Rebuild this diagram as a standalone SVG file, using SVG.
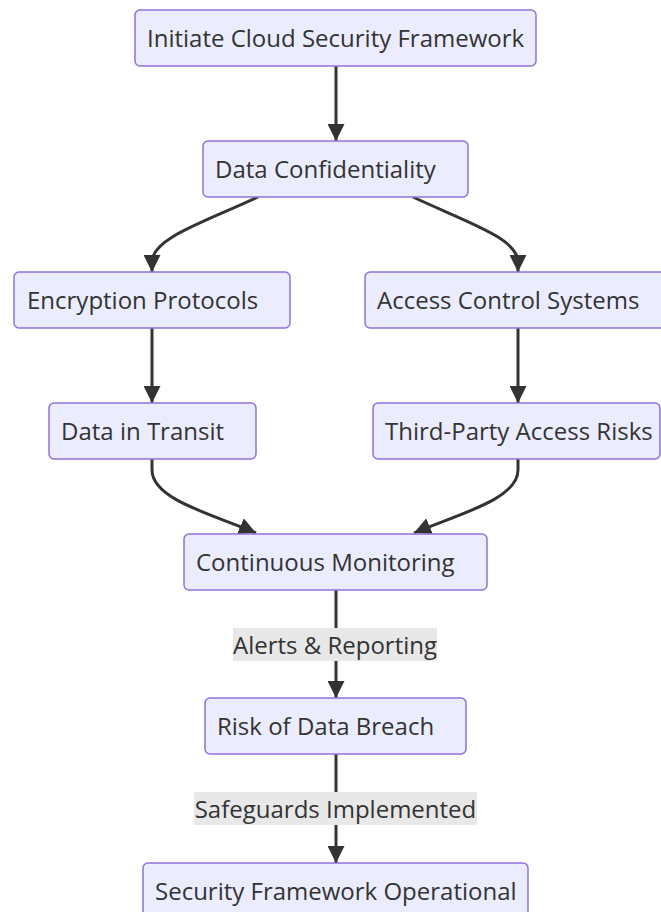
<svg xmlns="http://www.w3.org/2000/svg" width="661" height="912" viewBox="0 0 661 912">
<style>
.node rect{fill:#ECECFF;stroke:#9370DB;stroke-width:1.5}
.node text,.lbl text{font-family:"Open Sans","Noto Sans",sans-serif;font-size:24px;fill:#333}
.edge{fill:none;stroke:#333;stroke-width:3}
.lbl rect{fill:#e8e8e8}
</style>
<defs>
<marker id="ah" viewBox="0 0 10 10" refX="10" refY="5" markerUnits="userSpaceOnUse" markerWidth="17" markerHeight="17" orient="auto">
<path d="M0,0 L10,5 L0,10 z" fill="#333"/>
</marker>
</defs>
<g id="connectors">
<path class="edge" d="M336,66 L336,141" marker-end="url(#ah)"/>
<path class="edge" d="M258,197 C205,222 152,238 152,262 L152,272" marker-end="url(#ah)"/>
<path class="edge" d="M413,197 C466,222 518,238 518,262 L518,272" marker-end="url(#ah)"/>
<path class="edge" d="M152,328 L152,403" marker-end="url(#ah)"/>
<path class="edge" d="M518,328 L518,403" marker-end="url(#ah)"/>
<path class="edge" d="M152,459 L152,470 C152,500 215,515 256,533" marker-end="url(#ah)"/>
<path class="edge" d="M518,459 L518,470 C518,500 455,515 414,533" marker-end="url(#ah)"/>
<path class="edge" d="M336,590 L336,698" marker-end="url(#ah)"/>
<path class="edge" d="M336,754 L336,863" marker-end="url(#ah)"/>
<g class="lbl"><rect x="233" y="628" width="204" height="33"/><text x="335" y="653.5" text-anchor="middle">Alerts &amp; Reporting</text></g>
<g class="lbl"><rect x="194" y="792" width="283" height="33"/><text x="335.5" y="817.5" text-anchor="middle">Safeguards Implemented</text></g>
</g>
<g id="n1" class="node"><rect x="135" y="10" width="401" height="56" rx="5"/><text x="147" y="46.5">Initiate Cloud Security Framework</text></g>
<g id="n2" class="node"><rect x="203" y="141" width="265" height="56" rx="5"/><text x="215" y="177.5">Data Confidentiality</text></g>
<g id="n3" class="node"><rect x="14" y="272" width="276" height="56" rx="5"/><text x="27" y="308.5">Encryption Protocols</text></g>
<g id="n4" class="node"><rect x="365" y="272" width="307" height="56" rx="5"/><text x="377" y="308.5">Access Control Systems</text></g>
<g id="n5" class="node"><rect x="49" y="403" width="207" height="56" rx="5"/><text x="61" y="439.5">Data in Transit</text></g>
<g id="n6" class="node"><rect x="373" y="403" width="287" height="56" rx="5"/><text x="385" y="439.5">Third-Party Access Risks</text></g>
<g id="n7" class="node"><rect x="184" y="534" width="303" height="56" rx="5"/><text x="196" y="570.5">Continuous Monitoring</text></g>
<g id="n8" class="node"><rect x="205" y="698" width="261" height="56" rx="5"/><text x="217" y="734.5">Risk of Data Breach</text></g>
<g id="n9" class="node"><rect x="143" y="863" width="385" height="56" rx="5"/><text x="155" y="899.5">Security Framework Operational</text></g>
</svg>
